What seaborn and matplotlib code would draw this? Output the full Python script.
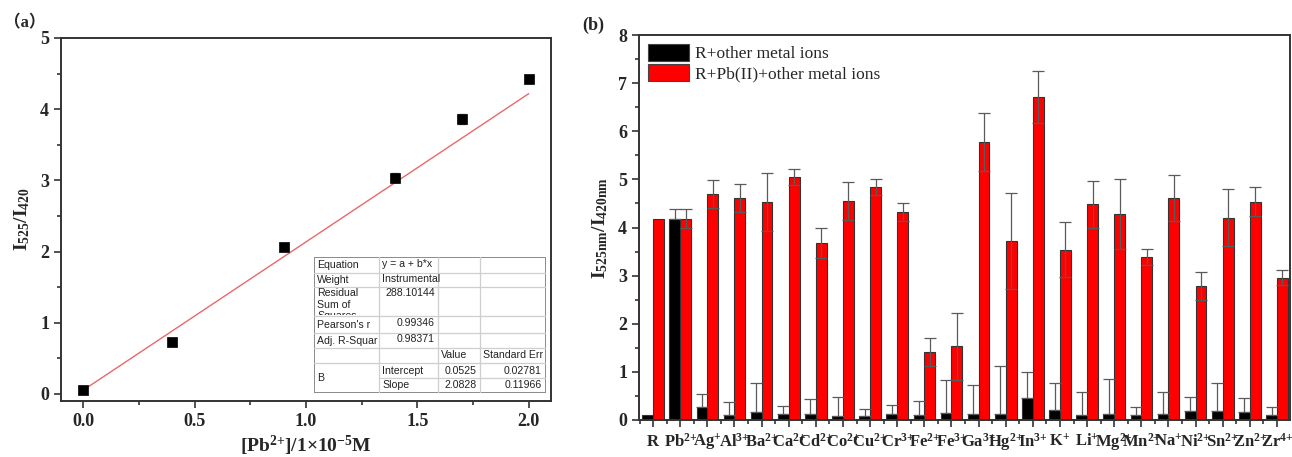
import numpy as np
import pandas as pd
import matplotlib
matplotlib.use("Agg")
import matplotlib.pyplot as plt
import seaborn as sns
from matplotlib.patches import Patch, Rectangle
from matplotlib.transforms import Bbox, TransformedBbox
from matplotlib.ticker import AutoMinorLocator, FixedLocator, MultipleLocator

# ---- panel (a): calibration data ----
conc = [0.0, 0.4, 0.9, 1.4, 1.7, 2.0]
ratio = [0.06, 0.73, 2.07, 3.04, 3.86, 4.43]
ratio_err = [0.03, 0.03, 0.03, 0.06, 0.07, 0.03]
fit_intercept = 0.0525
fit_slope = 2.0828

# ---- panel (b): selectivity data ----
ions = ["R", "Pb2+", "Ag+", "Al3+", "Ba2+", "Ca2+", "Cd2+", "Co2+", "Cu2+", "Cr3+",
        "Fe2+", "Fe3+", "Ga3+", "Hg2+", "In3+", "K+", "Li+", "Mg2+", "Mn2+", "Na+",
        "Ni2+", "Sn2+", "Zn2+", "Zr4+"]
black_vals = [0.10, 4.18, 0.28, 0.10, 0.17, 0.12, 0.13, 0.09, 0.09, 0.13, 0.11, 0.15,
              0.12, 0.13, 0.45, 0.20, 0.10, 0.12, 0.10, 0.12, 0.18, 0.18, 0.16, 0.11]
black_err = [0.0, 0.20, 0.27, 0.28, 0.59, 0.17, 0.31, 0.39, 0.14, 0.19, 0.28, 0.69,
             0.60, 0.99, 0.54, 0.56, 0.49, 0.73, 0.18, 0.47, 0.30, 0.59, 0.30, 0.17]
red_vals = [4.18, 4.18, 4.70, 4.62, 4.53, 5.05, 3.68, 4.55, 4.84, 4.32, 1.42, 1.53,
            5.78, 3.72, 6.72, 3.54, 4.48, 4.28, 3.39, 4.61, 2.78, 4.20, 4.54, 2.96]
red_err = [0.0, 0.20, 0.29, 0.29, 0.60, 0.175, 0.315, 0.40, 0.16, 0.195, 0.29, 0.69,
           0.60, 1.00, 0.54, 0.565, 0.49, 0.735, 0.165, 0.475, 0.29, 0.59, 0.30, 0.165]
groups = ["R+other metal ions", "R+Pb(II)+other metal ions"]

sns.set_theme(style="ticks")
plt.rcParams["font.family"] = ["Liberation Serif", "DejaVu Serif"]
plt.rcParams["font.weight"] = "bold"
plt.rcParams["mathtext.fontset"] = "custom"
plt.rcParams["mathtext.rm"] = "Liberation Serif:bold"
plt.rcParams["mathtext.bf"] = "Liberation Serif:bold"
plt.rcParams["mathtext.it"] = "Liberation Serif:bold:italic"

W, H = 1292, 457
fig = plt.figure(figsize=(W / 100, H / 100), dpi=100)
ax1 = fig.add_axes([61 / W, 1 - 401 / H, 490 / W, 363 / H])
ax2 = fig.add_axes([639 / W, 1 - 420 / H, 651 / W, 385 / H])

spine_col = "#333333"


def style_axes(ax, fs):
    for s in ax.spines.values():
        s.set_color(spine_col)
        s.set_linewidth(1.4)
    ax.tick_params(which="both", direction="out", color=spine_col, width=1.2,
                   top=False, right=False, labelsize=fs)
    ax.tick_params(which="major", length=5)
    ax.tick_params(which="minor", length=3)
    for lab in ax.get_xticklabels() + ax.get_yticklabels():
        lab.set_fontweight("bold")


# ---------------- panel (a) ----------------
ax1.errorbar(conc, ratio, yerr=ratio_err, fmt="none", ecolor="#888888",
             elinewidth=0.8, capsize=3, zorder=2)
sns.scatterplot(x=conc, y=ratio, marker="s", s=42, color="black",
                edgecolor="black", linewidth=0.5, ax=ax1, zorder=3)
fit_x = np.array([conc[0], conc[-1]])
sns.lineplot(x=fit_x, y=fit_intercept + fit_slope * fit_x, color="#E8696A",
             linewidth=1.0, ax=ax1, zorder=2)
ax1.set_xlim(-0.1, 2.1)
ax1.set_ylim(-0.1, 5)
ax1.xaxis.set_major_locator(MultipleLocator(0.5))
ax1.xaxis.set_minor_locator(AutoMinorLocator(2))
ax1.yaxis.set_major_locator(MultipleLocator(1))
ax1.yaxis.set_minor_locator(AutoMinorLocator(2))
ax1.set_xticks([0, 0.5, 1.0, 1.5, 2.0])
ax1.set_xticklabels(["0.0", "0.5", "1.0", "1.5", "2.0"])
ax1.set_xlabel(r"$\mathrm{[Pb^{2{+}}]/1{\times}10^{-5}M}$", fontsize=14, labelpad=3)
ax1.set_ylabel(r"$\mathrm{I_{525}/I_{420}}$", fontsize=14, labelpad=6)
style_axes(ax1, 13)

# fit report table (Origin style)
tab = fig.add_axes([314 / W, 1 - 393 / H, 232 / W, 136 / H])
tab.set_xlim(314, 546)
tab.set_ylim(393, 257)
tab.axis("off")
tab.add_patch(Rectangle((314, 257), 232, 136, facecolor="white",
                        edgecolor="#8a8a8a", linewidth=1.4, zorder=1))
cols = [314, 379, 438, 480, 546]
rows = [257, 273, 287, 316, 333, 348, 363, 378, 393]
grid_col = "#cfcfcf"
for y in rows[1:-1]:
    x0 = cols[1] if y == 378 else cols[0]
    tab.plot([x0, cols[-1]], [y, y], color=grid_col, lw=0.9, zorder=2)
for x in cols[1:-1]:
    tab.plot([x, x], [rows[0], rows[-1]], color=grid_col, lw=0.9, zorder=2)

tkw = dict(family="Liberation Sans", fontsize=7.6, fontweight="normal",
           color="#222222", zorder=3)


def mid(i):
    return (rows[i] + rows[i + 1]) / 2


tab.text(cols[0] + 3, mid(0), "Equation", va="center", **tkw)
tab.text(cols[1] + 3, mid(0) - 1, "y = a + b*x", va="center", **tkw)
tab.text(cols[0] + 3, mid(1), "Weight", va="center", **tkw)
tab.text(cols[1] + 3, mid(1) - 1, "Instrumental", va="center", **tkw)
res = tab.text(cols[0] + 3, rows[2] + 1.5, "Residual\nSum of\nSquares", va="top",
               linespacing=1.15, **tkw)
res.set_clip_box(TransformedBbox(Bbox.from_extents(cols[0], rows[2], cols[1], rows[3] - 1),
                                 tab.transData))
res.set_clip_on(True)
tab.text(cols[2] - 3, rows[2] + 1.5, "288.10144", va="top", ha="right", **tkw)
tab.text(cols[0] + 3, mid(3), "Pearson's r", va="center", **tkw)
tab.text(cols[2] - 3, mid(3) - 1, "0.99346", va="center", ha="right", **tkw)
tab.text(cols[0] + 3, mid(4), "Adj. R-Squar", va="center", **tkw)
tab.text(cols[2] - 3, mid(4) - 1, "0.98371", va="center", ha="right", **tkw)
tab.text(cols[2] + 3, mid(5), "Value", va="center", **tkw)
tab.text(cols[3] + 3, mid(5), "Standard Err", va="center", **tkw)
tab.text(cols[0] + 3, rows[7], "B", va="center", **tkw)
tab.text(cols[1] + 3, mid(6), "Intercept", va="center", **tkw)
tab.text(cols[3] - 3, mid(6), f"{fit_intercept:.4f}", va="center", ha="right", **tkw)
tab.text(cols[4] - 4, mid(6), "0.02781", va="center", ha="right", **tkw)
tab.text(cols[1] + 3, mid(7), "Slope", va="center", **tkw)
tab.text(cols[3] - 3, mid(7), f"{fit_slope:.4f}", va="center", ha="right", **tkw)
tab.text(cols[4] - 4, mid(7), "0.11966", va="center", ha="right", **tkw)

# ---------------- panel (b) ----------------
df = pd.DataFrame({
    "ion": ions * 2,
    "value": black_vals + red_vals,
    "group": [groups[0]] * len(ions) + [groups[1]] * len(ions),
})
palette = {groups[0]: "#000000", groups[1]: "#FF0000"}
sns.barplot(data=df, x="ion", y="value", hue="group", hue_order=groups,
            palette=palette, saturation=1, errorbar=None, width=0.8,
            edgecolor="#333333", linewidth=0.8, legend=False, ax=ax2, zorder=2)

for cont, vals, errs, sym in [(ax2.containers[0], black_vals, black_err, False),
                              (ax2.containers[1], red_vals, red_err, True)]:
    xs = np.array([p.get_x() + p.get_width() / 2 for p in cont])
    v = np.array(vals)
    e = np.array(errs)
    m = e > 0
    lower = e[m] if sym else np.zeros(m.sum())
    ax2.errorbar(xs[m], v[m], yerr=[lower, e[m]], fmt="none", ecolor="#5a5a5a",
                 elinewidth=0.9, capsize=4, capthick=0.9, zorder=3)


def ion_label(name):
    if name == "R":
        return "R"
    base = name.rstrip("+0123456789")
    charge = name[len(base):].replace("+", "{+}")
    return r"$\mathrm{%s^{%s}}$" % (base, charge)


ax2.set_xticks(range(len(ions)))
ax2.set_xticklabels([ion_label(n) for n in ions])
ax2.xaxis.set_minor_locator(FixedLocator(np.arange(len(ions) + 1) - 0.5))
ax2.set_xlim(-0.52, len(ions) - 0.52)
ax2.set_ylim(0, 8)
ax2.yaxis.set_major_locator(MultipleLocator(1))
ax2.yaxis.set_minor_locator(AutoMinorLocator(2))
ax2.set_xlabel("")
ax2.set_ylabel(r"$\mathrm{I_{525nm}/I_{420nm}}$", fontsize=14, labelpad=6)
style_axes(ax2, 13)
ax2.tick_params(axis="x", which="major", pad=14, labelsize=12)
for lab in ax2.get_xticklabels():
    lab.set_verticalalignment("baseline")

handles = [Patch(facecolor=palette[g], edgecolor="#444444", linewidth=0.8) for g in groups]
ax2.legend(handles, groups, loc="upper left", frameon=False, borderaxespad=0.3,
           handlelength=2.4, handleheight=1.15, handletextpad=0.3,
           labelspacing=0.12, borderpad=0.2,
           prop={"family": "Liberation Serif", "weight": "normal", "size": 12.5})

# panel letters
fig.text(25 / W, 1 - 23 / H, "（a）", ha="center", va="center", fontsize=12,
         fontweight="bold", family=["Liberation Serif", "Noto Sans CJK SC"])
fig.text(593 / W, 1 - 25 / H, "(b)", ha="center", va="center", fontsize=13,
         fontweight="bold")

fig.savefig("out.png", dpi=100)
